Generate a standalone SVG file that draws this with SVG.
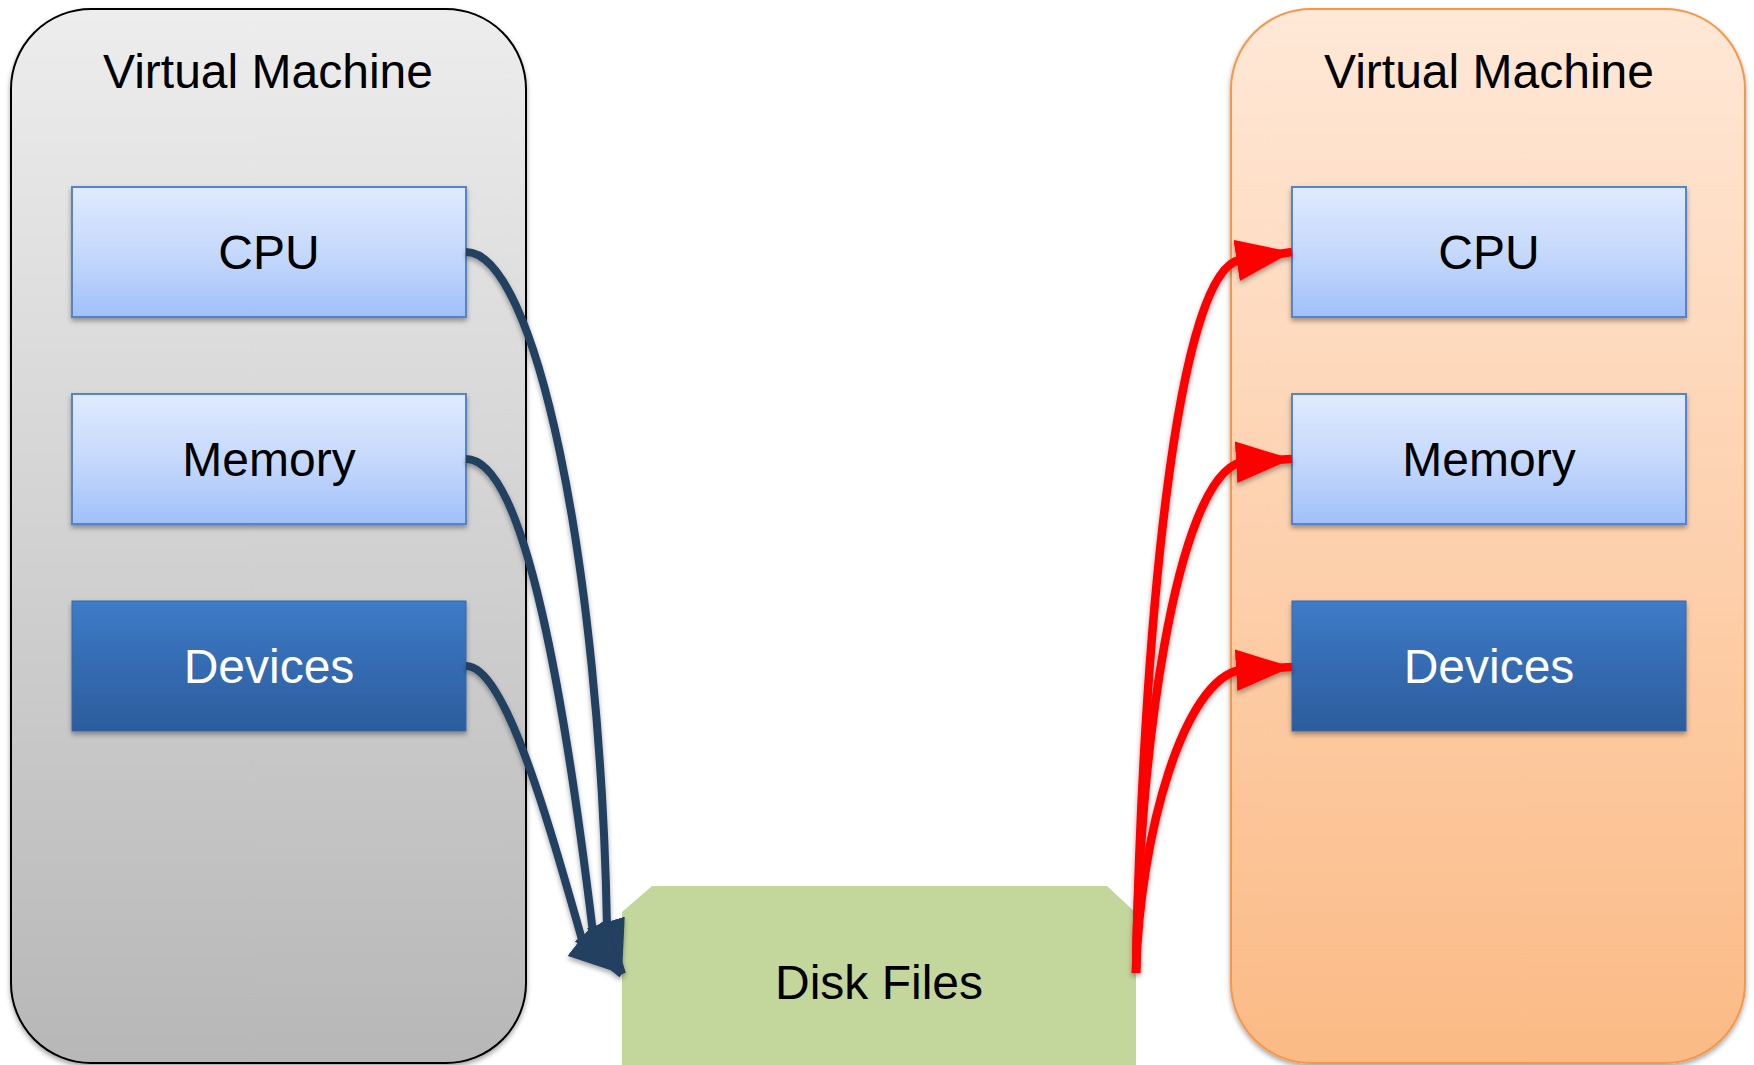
<svg xmlns="http://www.w3.org/2000/svg" width="1754" height="1065" viewBox="0 0 1754 1065">
  <defs>
    <linearGradient id="g-vm-grey" x1="0" y1="0" x2="0" y2="1">
      <stop offset="0" stop-color="#ededed"/>
      <stop offset="1" stop-color="#b7b7b7"/>
    </linearGradient>
    <linearGradient id="g-vm-orange" x1="0" y1="0" x2="0" y2="1">
      <stop offset="0" stop-color="#ffe8d7"/>
      <stop offset="1" stop-color="#fbba85"/>
    </linearGradient>
    <linearGradient id="g-light" x1="0" y1="0" x2="0" y2="1">
      <stop offset="0" stop-color="#dfeafd"/>
      <stop offset="0.5" stop-color="#c6d9fb"/>
      <stop offset="1" stop-color="#a0c0f9"/>
    </linearGradient>
    <linearGradient id="g-dark" x1="0" y1="0" x2="0" y2="1">
      <stop offset="0" stop-color="#3d7bc8"/>
      <stop offset="1" stop-color="#2c5c9c"/>
    </linearGradient>
    <filter id="shadow" x="-10%" y="-10%" width="120%" height="120%">
      <feDropShadow dx="0" dy="3" stdDeviation="2.5" flood-color="#000" flood-opacity="0.35"/>
    </filter>
    <marker id="ah-navy" markerUnits="userSpaceOnUse" markerWidth="54" markerHeight="40" viewBox="0 0 52 38" refX="52" refY="19" orient="auto">
      <path d="M0,0 L52,19 L0,38 z" fill="#243f60"/>
    </marker>
    <marker id="ah-red" markerUnits="userSpaceOnUse" markerWidth="56" markerHeight="42" viewBox="0 0 54 40" refX="54" refY="20" orient="auto">
      <path d="M0,0 L54,20 L0,40 z" fill="#ff0000"/>
    </marker>
  </defs>
  <style>
    text { font-family: "Liberation Sans", Arial, sans-serif; font-size: 48px; text-anchor: middle; fill: #000; }
    .vm-left { fill: url(#g-vm-grey); stroke: #000; stroke-width: 2; }
    .vm-right { fill: url(#g-vm-orange); stroke: #f79646; stroke-width: 2; }
    .box-light { fill: url(#g-light); stroke: #5585c8; stroke-width: 2; }
    .box-dark { fill: url(#g-dark); stroke: #3569ad; stroke-width: 1; }
    .label-dark { fill: #fff; }
    .disk { fill: #c3d69b; }
    .wire-navy { fill: none; stroke: #243f60; stroke-width: 8; marker-end: url(#ah-navy); }
    .wire-red { fill: none; stroke: #ff0000; stroke-width: 8.5; marker-end: url(#ah-red); }
  </style>

  <rect width="1754" height="1065" fill="#ffffff"/>

  <!-- source machine -->
  <g id="vm-source">
    <rect class="vm-left" x="11" y="9" width="515" height="1054" rx="80" ry="80" filter="url(#shadow)"/>
    <text x="268" y="88">Virtual Machine</text>
  </g>
  <g id="src-cpu">
    <rect class="box-light" x="72" y="187" width="394" height="130" filter="url(#shadow)"/>
    <text x="269" y="269">CPU</text>
  </g>
  <g id="src-memory">
    <rect class="box-light" x="72" y="394" width="394" height="130" filter="url(#shadow)"/>
    <text x="269" y="476">Memory</text>
  </g>
  <g id="src-devices">
    <rect class="box-dark" x="72" y="601" width="394" height="130" filter="url(#shadow)"/>
    <text class="label-dark" x="269" y="683">Devices</text>
  </g>

  <!-- target machine -->
  <g id="vm-target">
    <rect class="vm-right" x="1231" y="9" width="514" height="1054" rx="80" ry="80" filter="url(#shadow)"/>
    <text x="1489" y="88">Virtual Machine</text>
  </g>
  <g id="dst-cpu">
    <rect class="box-light" x="1292" y="187" width="394" height="130" filter="url(#shadow)"/>
    <text x="1489" y="269">CPU</text>
  </g>
  <g id="dst-memory">
    <rect class="box-light" x="1292" y="394" width="394" height="130" filter="url(#shadow)"/>
    <text x="1489" y="476">Memory</text>
  </g>
  <g id="dst-devices">
    <rect class="box-dark" x="1292" y="601" width="394" height="130" filter="url(#shadow)"/>
    <text class="label-dark" x="1489" y="683">Devices</text>
  </g>

  <!-- shared storage -->
  <g id="disk-files">
    <polygon class="disk" points="622,912 652,886 1107,886 1136,913 1136,1065 622,1065"/>
    <text x="879" y="999">Disk Files</text>
  </g>

  <!-- connectors -->
  <g id="connectors" filter="url(#shadow)">
    <path class="wire-navy" d="M466,252 C535,252 600,560 607,926 L622,974"/>
    <path class="wire-navy" d="M466,459 C525,459 565,700 593,933 L622,974"/>
    <path class="wire-navy" d="M466,666 C505,666 548,820 583,943 L622,974"/>
    <path class="wire-red" d="M1136,973 C1142,650 1175,270 1240,260 L1292,252"/>
    <path class="wire-red" d="M1136,973 C1138,760 1175,480 1241,462 L1292,459"/>
    <path class="wire-red" d="M1136,973 C1140,830 1185,680 1240,670 L1292,667"/>
  </g>
</svg>
